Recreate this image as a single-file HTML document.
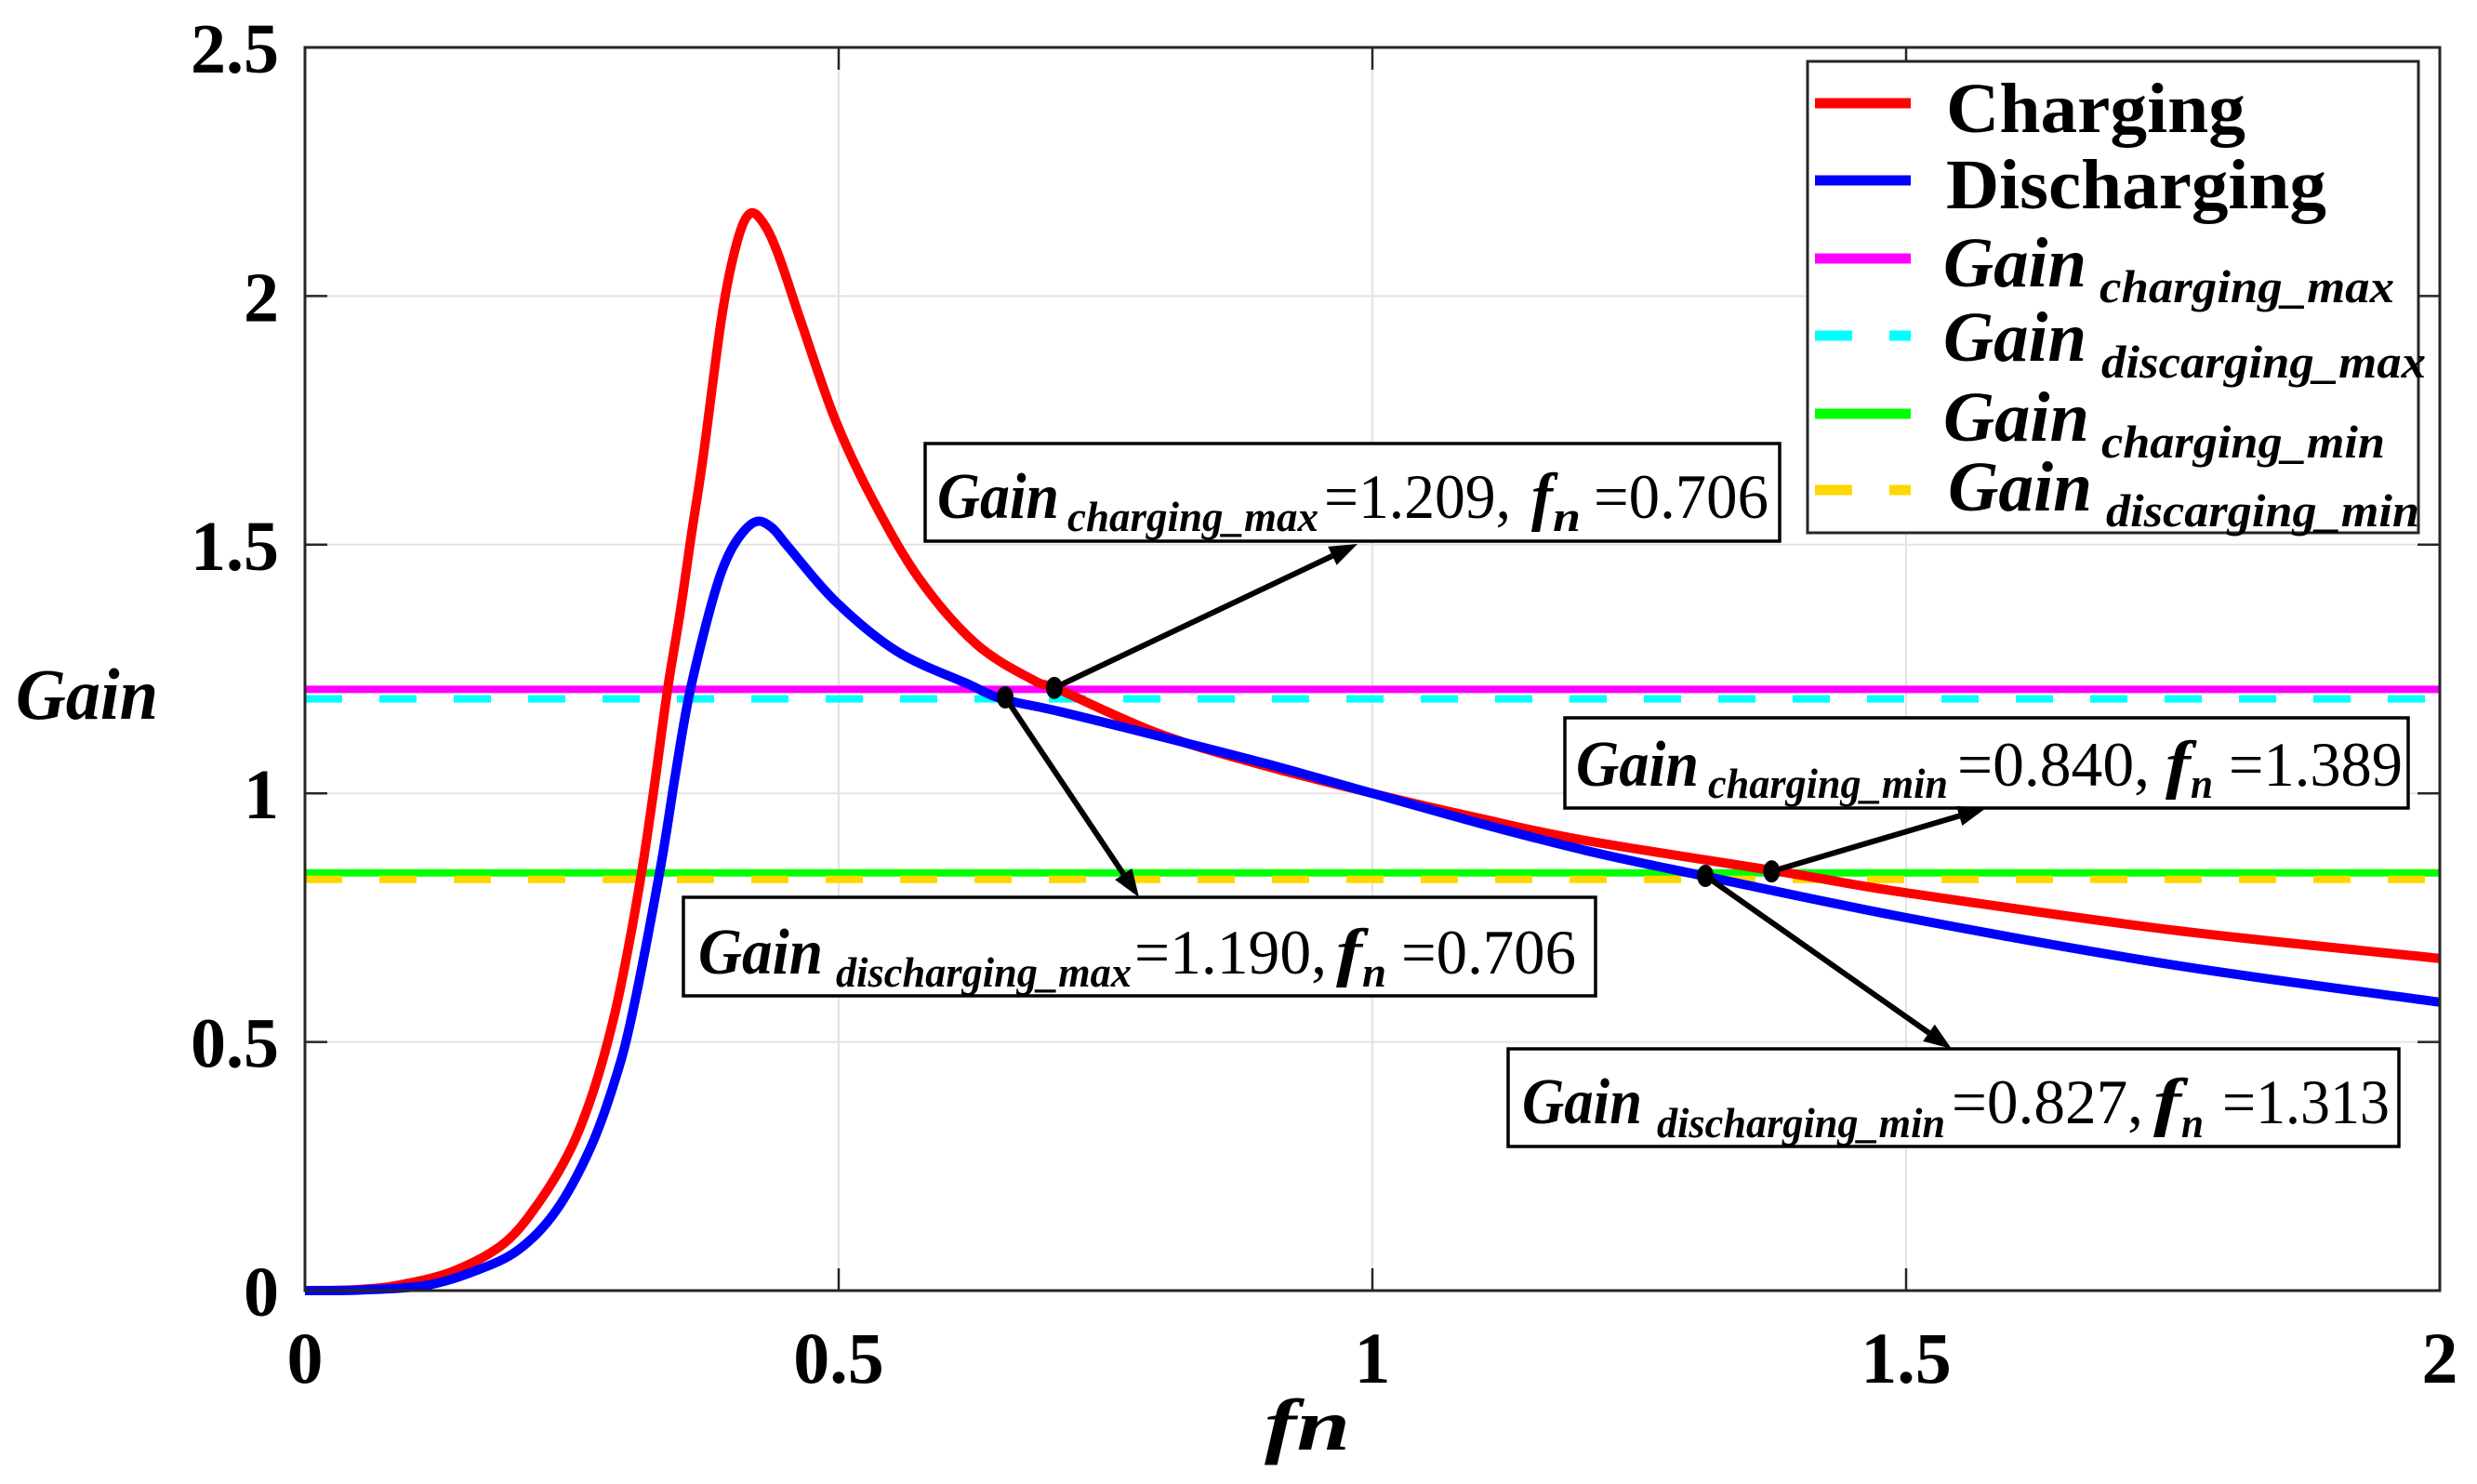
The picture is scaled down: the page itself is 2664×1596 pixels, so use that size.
<!DOCTYPE html>
<html><head><meta charset="utf-8">
<style>
html,body{margin:0;padding:0;background:#fff;}
svg{display:block;}
text{font-family:"Liberation Serif",serif;font-weight:bold;fill:#000;}
</style></head>
<body>
<svg id="chart" width="2664" height="1596" viewBox="0 0 2664 1596" xmlns="http://www.w3.org/2000/svg">
  <rect x="0" y="0" width="2664" height="1596" fill="#fff"/>
  <g id="grid"></g>
  <g id="hlines"></g>
  <g id="curves"></g>
  <g id="axes"></g>
  <g id="annots"></g>
  <g id="legend"></g>
</svg>
<script>
const xTicks = [0, 0.5, 1, 1.5, 2];
const xTickLabels = ["0", "0.5", "1", "1.5", "2"];
const yTicks = [0, 0.5, 1, 1.5, 2, 2.5];
const yTickLabels = ["0", "0.5", "1", "1.5", "2", "2.5"];

const chargingFn = [0,0.05,0.09,0.14,0.187,0.22,0.249,0.27,0.289,0.303,0.316,0.327,0.34,0.351,0.362,0.373,0.391,0.405,0.417,0.43,0.444,0.466,0.497,0.532,0.576,0.629,0.683,0.706,0.8,0.9,1.0,1.1,1.2,1.389,1.5,1.75,2.0];
const chargingGain = [0,0.002,0.012,0.04,0.096,0.18,0.285,0.40,0.546,0.69,0.85,1.01,1.213,1.357,1.52,1.676,1.966,2.11,2.166,2.145,2.08,1.94,1.75,1.59,1.43,1.30,1.227,1.209,1.12,1.055,1.0,0.95,0.905,0.84,0.80,0.725,0.668];
const dischargingFn = [0,0.05,0.112,0.16,0.2,0.235,0.267,0.29,0.307,0.333,0.347,0.36,0.378,0.391,0.405,0.422,0.437,0.453,0.497,0.555,0.621,0.653,0.706,0.8,0.9,1.0,1.1,1.2,1.31,1.5,1.75,2.0];
const dischargingGain = [0,0.001,0.01,0.04,0.082,0.16,0.285,0.42,0.56,0.85,1.038,1.198,1.358,1.45,1.51,1.546,1.535,1.495,1.386,1.285,1.22,1.19,1.165,1.115,1.06,1.0,0.94,0.885,0.834,0.75,0.655,0.58];

const refValues = [1.209, 1.190, 0.840, 0.827];
const refColors = ["#ff00ff", "#00ffff", "#00ff00", "#ffd700"];
const refDashed = [false, true, false, true];
const refNames = ["gain-charging-max-line","gain-discharging-max-line","gain-charging-min-line","gain-discharging-min-line"];

const annotFn = [0.702, 0.656, 1.374, 1.312];
const annotGain = [1.212, 1.193, 0.843, 0.834];

const NS = "http://www.w3.org/2000/svg";
const FONT = '"Liberation Serif", serif';
const L = 328, R = 2624, T = 51, B = 1388;
const xMin = 0, xMax = 2, yMin = 0, yMax = 2.5;
function X(v){ return L + (v - xMin) / (xMax - xMin) * (R - L); }
function Y(v){ return B - (v - yMin) / (yMax - yMin) * (B - T); }
function mk(tag, attrs, parent){
  const e = document.createElementNS(NS, tag);
  for (const k in attrs) e.setAttribute(k, attrs[k]);
  if (tag === "text") e.setAttribute("font-family", FONT);
  parent.appendChild(e);
  return e;
}
function pathFrom(xs, ys){
  const p = xs.map((v,i)=>[X(v), Y(ys[i])]);
  let d = "M" + p[0][0].toFixed(1) + "," + p[0][1].toFixed(1);
  for (let i=0;i<p.length-1;i++){
    const p0 = p[Math.max(0,i-1)], p1 = p[i], p2 = p[i+1], p3 = p[Math.min(p.length-1,i+2)];
    const c1x = p1[0] + (p2[0]-p0[0])/6, c1y = p1[1] + (p2[1]-p0[1])/6;
    const c2x = p2[0] - (p3[0]-p1[0])/6, c2y = p2[1] - (p3[1]-p1[1])/6;
    d += " C" + c1x.toFixed(1)+","+c1y.toFixed(1)+" "+c2x.toFixed(1)+","+c2y.toFixed(1)+" "+p2[0].toFixed(1)+","+p2[1].toFixed(1);
  }
  return d;
}

const grid = document.getElementById("grid");
xTicks.forEach(v=>{
  const l = mk("line",{x1:X(v),x2:X(v),y1:T,y2:B,stroke:"#e3e3e3","stroke-width":2},grid);
  
  
});
yTicks.forEach(v=>{
  const l = mk("line",{x1:L,x2:R,y1:Y(v),y2:Y(v),stroke:"#e3e3e3","stroke-width":2},grid);
  
  
});

const hl = document.getElementById("hlines");
refValues.forEach((v,i)=>{
  const l = mk("line",{x1:L,x2:R,y1:Y(v),y2:Y(v),stroke:refColors[i],"stroke-width":8},hl);
  if (refDashed[i]) l.setAttribute("stroke-dasharray","40 40");
  
  
});

const cv = document.getElementById("curves");
const pc = mk("path",{d:pathFrom(chargingFn,chargingGain),fill:"none",stroke:"#ff0000","stroke-width":10,"stroke-linejoin":"round"},cv);


const pd = mk("path",{d:pathFrom(dischargingFn,dischargingGain),fill:"none",stroke:"#0000ff","stroke-width":10,"stroke-linejoin":"round"},cv);



const ax = document.getElementById("axes");
const box = mk("rect",{x:L,y:T,width:R-L,height:B-T,fill:"none",stroke:"#262626","stroke-width":3},ax);


xTicks.forEach((v,i)=>{
  const t1 = mk("line",{x1:X(v),x2:X(v),y1:B,y2:B-24,stroke:"#262626","stroke-width":2.5},ax);
  
  
  const t2 = mk("line",{x1:X(v),x2:X(v),y1:T,y2:T+24,stroke:"#262626","stroke-width":2.5},ax);
  
  
  const tx = mk("text",{x:X(v),y:1487,"font-size":78,"font-weight":"bold","text-anchor":"middle",fill:"#262626"},ax);
  tx.textContent = xTickLabels[i];
  
  
});
yTicks.forEach((v,i)=>{
  const t1 = mk("line",{x1:L,x2:L+24,y1:Y(v),y2:Y(v),stroke:"#262626","stroke-width":2.5},ax);
  
  
  const t2 = mk("line",{x1:R,x2:R-24,y1:Y(v),y2:Y(v),stroke:"#262626","stroke-width":2.5},ax);
  
  
  const tx = mk("text",{x:300,y:Y(v)+27,"font-size":76,"font-weight":"bold","text-anchor":"end",fill:"#262626"},ax);
  tx.textContent = yTickLabels[i];
  
  
});
const xt = mk("text",{x:1360,y:1559,"font-size":78,"font-weight":"bold","font-style":"italic",textLength:92,lengthAdjust:"spacingAndGlyphs"},ax);
xt.textContent = "fn";


const yt = mk("text",{x:17,y:773,"font-size":78,"font-weight":"bold","font-style":"italic",textLength:153,lengthAdjust:"spacingAndGlyphs"},ax);
yt.textContent = "Gain";



function seg(parent, str, x, x2, y, size, italic, bold, name){
  const t = mk("text",{x:x,y:y,"font-size":size,textLength:(x2-x),lengthAdjust:"spacingAndGlyphs"},parent);
  if (italic) t.setAttribute("font-style","italic");
  t.setAttribute("font-weight", bold ? "bold" : "normal");
  t.style.fontWeight = bold ? "bold" : "normal";
  t.textContent = str;
  
  
  return t;
}

const an = document.getElementById("annots");
const boxes = [
  {bx:995,by:477,bw:919,bh:105, base:557, sub:571, segs:[["Gain",1008,1139,1],["charging_max",1148,1418,2],["=1.209,",1424,1625,0],["f",1647,1670,1],["n",1670,1700,2],["=0.706",1714,1902,0]], ax:1460, ay:585},
  {bx:735,by:965,bw:981,bh:106, base:1047, sub:1061, segs:[["Gain",751,885,1],["discharging_max",899,1217,2],["=1.190,",1220,1427,0],["f",1437,1465,1],["n",1465,1491,2],["=0.706",1507,1695,0]], ax:1225, ay:965},
  {bx:1683,by:772,bw:907,bh:97, base:845, sub:858, segs:[["Gain",1695,1827,1],["charging_min",1837,2095,2],["=0.840,",2105,2312,0],["f",2329,2356,1],["n",2356,2380,2],["=1.389",2397,2584,0]], ax:2136, ay:869},
  {bx:1622,by:1128,bw:958,bh:105, base:1208, sub:1223, segs:[["Gain",1637,1766,1],["discharging_min",1782,2092,2],["=0.827,",2099,2305,0],["f",2316,2346,1],["n",2346,2370,2],["=1.313",2390,2570,0]], ax:2099, ay:1128}
];
const annNames = ["charging-max-annotation","discharging-max-annotation","charging-min-annotation","discharging-min-annotation"];
boxes.forEach((b,i)=>{
  const g = mk("g",{},an);
  
  
  const r = mk("rect",{x:b.bx,y:b.by,width:b.bw,height:b.bh,fill:"#fff",stroke:"#000","stroke-width":3.5},g);
  
  
  b.segs.forEach(s=>{
    const isSub = s[3]===2;
    seg(g, s[0], s[1], s[2], isSub ? b.sub : b.base, isSub ? 46 : (s[3]===1 ? 70 : 68), s[3]!==0, s[3]!==0, isSub ? 'annotation-subscript' : 'annotation-text');
  });
  const dx = X(annotFn[i]), dy = Y(annotGain[i]);
  const ang = Math.atan2(b.ay-dy, b.ax-dx);
  const hl2 = 30, hw = 11;
  const ex = b.ax - hl2*Math.cos(ang), ey = b.ay - hl2*Math.sin(ang);
  const ln = mk("line",{x1:dx,y1:dy,x2:ex,y2:ey,stroke:"#000","stroke-width":6},g);
  
  
  const px = -Math.sin(ang), py = Math.cos(ang);
  const hd = mk("polygon",{points:`${b.ax},${b.ay} ${ex+px*hw},${ey+py*hw} ${ex-px*hw},${ey-py*hw}`,fill:"#000"},g);
  
  
  const dot = mk("ellipse",{cx:dx,cy:dy,rx:9,ry:12,fill:"#000"},g);
  
  
});

const lg = document.getElementById("legend");
const lb = mk("rect",{x:1944,y:66,width:657,height:507,fill:"#fff",stroke:"#262626","stroke-width":3},lg);


const legRows = [
  {y:111, color:"#ff0000", dash:false, main:["Charging",2093,2415,142,0], sub:null, name:"legend-entry-charging"},
  {y:194, color:"#0000ff", dash:false, main:["Discharging",2093,2502,224,0], sub:null, name:"legend-entry-discharging"},
  {y:278, color:"#ff00ff", dash:false, main:["Gain",2090,2244,308,1], sub:["charging_max",2258,2575,325], name:"legend-entry-gain-charging-max"},
  {y:361, color:"#00ffff", dash:true, main:["Gain",2090,2244,388,1], sub:["discarging_max",2260,2609,406], name:"legend-entry-gain-discharging-max"},
  {y:445, color:"#00ff00", dash:false, main:["Gain",2090,2247,474,1], sub:["charging_min",2260,2565,492], name:"legend-entry-gain-charging-min"},
  {y:527, color:"#ffd700", dash:true, main:["Gain",2095,2250,549,1], sub:["discarging_min",2265,2602,566], name:"legend-entry-gain-discharging-min"}
];
legRows.forEach(r=>{
  const g = mk("g",{},lg);
  
  
  const l = mk("line",{x1:1952,x2:2055,y1:r.y,y2:r.y,stroke:r.color,"stroke-width":11},g);
  if (r.dash) l.setAttribute("stroke-dasharray","40 40");
  
  
  seg(g, r.main[0], r.main[1], r.main[2], r.main[3], 76, r.main[4]===1, true, 'legend-label');
  if (r.sub) seg(g, r.sub[0], r.sub[1], r.sub[2], r.sub[3], 50, true, true, 'legend-subscript');
});
</script>
</body></html>
